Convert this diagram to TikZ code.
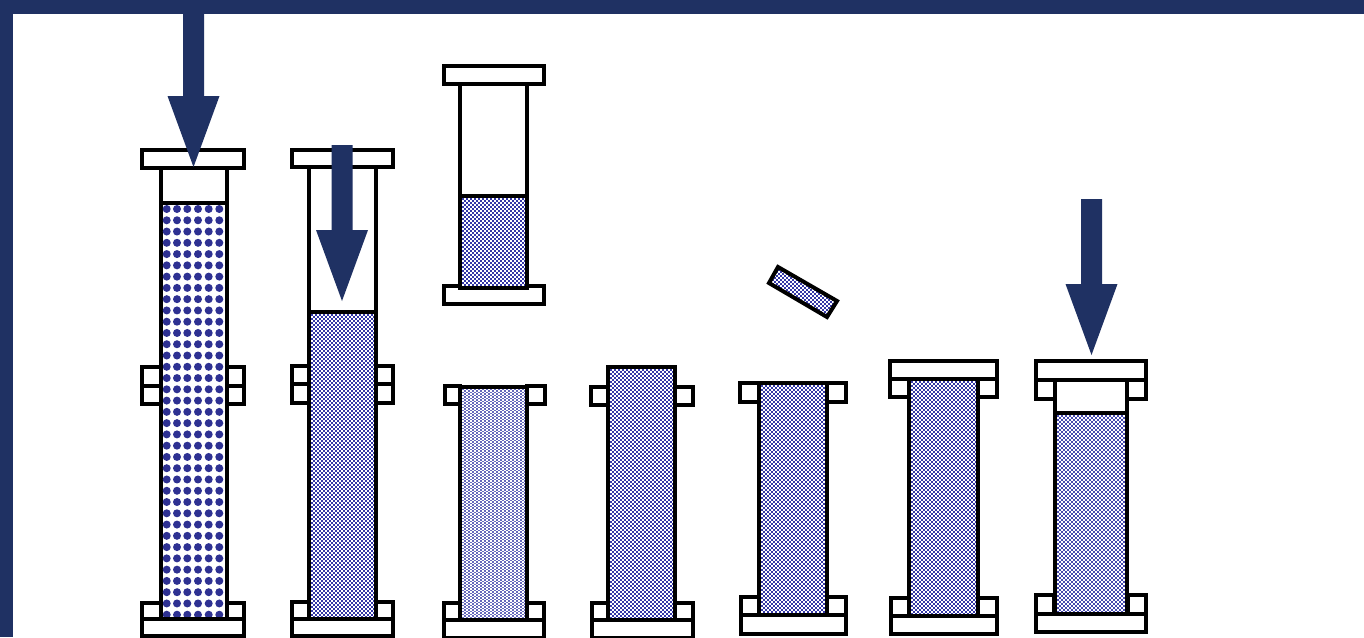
\documentclass[tikz,border=0pt]{standalone}
\definecolor{navy}{HTML}{1F3163}
\definecolor{dotblue}{HTML}{2E3192}
\definecolor{checkblue}{HTML}{3437A6}
\tikzset{
  part/.style={draw=black,line width=4pt,fill=white,line join=miter},
  outline/.style={draw=black,line width=4pt,line join=miter},
  bluearrow/.style={fill=navy,draw=none},
  framebar/.style={fill=navy,draw=none},
  bead/.style={fill=dotblue,draw=none}
}
% arrow: centre x, shaft top, head top, tip
\newcommand{\pressarrow}[4]{\fill[bluearrow] (#1-10.5,#2) -- (#1+10.5,#2) -- (#1+10.5,#3) -- (#1+26,#3) -- (#1,#4) -- (#1-26,#3) -- (#1-10.5,#3) -- cycle;}
% checker rows: x left, x right, y top, y bottom, row height, colour
\newcommand{\checkrows}[6]{%
  \pgfmathtruncatemacro\nrows{(#4-#3)/#5}%
  \foreach \i in {0,...,\nrows}{%
    \pgfmathsetmacro\rowy{#3+#5*\i+#5/2}%
    \pgfmathsetmacro\rowphase{mod(\i,2)*2}%
    \draw[draw=#6,line width=#5pt,dash pattern=on 2pt off 2pt,dash phase=\rowphase pt] (#1,\rowy) -- (#2,\rowy);
  }}
% sample box: x0,y0,x1,y1,row height,colour
\newcommand{\samplebox}[6]{%
  \fill[white] (#1,#2) rectangle (#3,#4);
  \begin{scope}
    \clip (#1,#2) rectangle (#3,#4);
    \checkrows{#1}{#3}{#2}{#4}{#5}{#6}
  \end{scope}
  \draw[outline] (#1,#2) rectangle (#3,#4);}
\begin{document}
\begin{tikzpicture}[x=1pt,y=-1pt]
\useasboundingbox (0,0) rectangle (1364,637);
\fill[white] (0,0) rectangle (1364,637);
% frame
\fill[framebar] (0,0) rectangle (1364,13.5);
\fill[framebar] (0,0) rectangle (12.5,637);

% Column 1
\draw[part] (161,168) rectangle (227,203);
\draw[part] (161,203) rectangle (227,619);
\foreach \r in {0,...,36}{
  \foreach \cx in {166.7,177,187.3,198,208.7,219.3}{
    \fill[bead] (\cx,209+11.27*\r) circle (4);
  }
}
\draw[part] (142,367) rectangle (161,386);
\draw[part] (142,386) rectangle (161,404);
\draw[part] (227,367) rectangle (244,386);
\draw[part] (227,386) rectangle (244,404);
\draw[part] (142,603) rectangle (161,619);
\draw[part] (227,603) rectangle (244,619);
\draw[part] (142,150) rectangle (244,168);
\draw[part] (142,619) rectangle (244,636);
\pressarrow{193.5}{13}{96}{167}

% Column 2
\draw[part] (309,167) rectangle (376,312);
\draw[part] (292,366) rectangle (309,384);
\draw[part] (292,384) rectangle (309,403);
\draw[part] (376,366) rectangle (393,384);
\draw[part] (376,384) rectangle (393,403);
\draw[part] (292,602) rectangle (309,619);
\draw[part] (376,602) rectangle (393,619);
\draw[part] (292,150) rectangle (393,167);
\draw[part] (292,619) rectangle (393,636);
\samplebox{309}{312}{376}{619}{2}{checkblue}
\pressarrow{342}{145}{230}{301}

% Column 3, upper
\draw[part] (460,84) rectangle (527,196);
\draw[part] (444,66) rectangle (544,84);
\draw[part] (444,286) rectangle (544,304);
\samplebox{460}{196}{527}{288}{2}{checkblue}

% Column 3, lower
\draw[part] (445,386) rectangle (460,404);
\draw[part] (527,386) rectangle (545,404);
\draw[part] (444,603) rectangle (460,620);
\draw[part] (527,603) rectangle (544,620);
\draw[part] (444,620) rectangle (544,638);
\samplebox{460}{387}{527}{620}{1.5}{checkblue!75!white}

% Column 4
\draw[part] (591,387) rectangle (608,405);
\draw[part] (675,387) rectangle (693,405);
\draw[part] (592,603) rectangle (608,620);
\draw[part] (675,603) rectangle (693,620);
\draw[part] (592,620) rectangle (693,638);
\samplebox{608}{367}{675}{620}{2}{checkblue}

% Column 5
\draw[part] (740,383) rectangle (759,402);
\draw[part] (827,383) rectangle (846,402);
\draw[part] (741,597) rectangle (759,615);
\draw[part] (827,597) rectangle (846,615);
\draw[part] (741,615) rectangle (846,634);
\samplebox{759}{383}{827}{615}{2}{checkblue}

% Chip
\fill[white] (778,267) -- (837,301) -- (827,317) -- (769,283) -- cycle;
\begin{scope}
  \clip (778,267) -- (837,301) -- (827,317) -- (769,283) -- cycle;
  \checkrows{766}{840}{265}{320}{2}{checkblue}
\end{scope}
\draw[outline] (778,267) -- (837,301) -- (827,317) -- (769,283) -- cycle;

% Column 6
\draw[part] (890,379) rectangle (909,397);
\draw[part] (978,379) rectangle (997,397);
\draw[part] (891,598) rectangle (909,616);
\draw[part] (978,598) rectangle (997,616);
\draw[part] (891,616) rectangle (997,634);
\draw[part] (890,361) rectangle (997,379);
\samplebox{909}{379}{978}{616}{2}{checkblue}

% Column 7
\draw[part] (1055,380) rectangle (1127,413);
\draw[part] (1036,380) rectangle (1055,399);
\draw[part] (1127,380) rectangle (1146,399);
\draw[part] (1036,595) rectangle (1054,614);
\draw[part] (1128,595) rectangle (1146,614);
\draw[part] (1036,614) rectangle (1146,632);
\draw[part] (1036,361) rectangle (1146,380);
\samplebox{1055}{413}{1127}{614}{2}{checkblue!90!white}
\pressarrow{1091.5}{199}{284}{355}
\end{tikzpicture}
\end{document}
